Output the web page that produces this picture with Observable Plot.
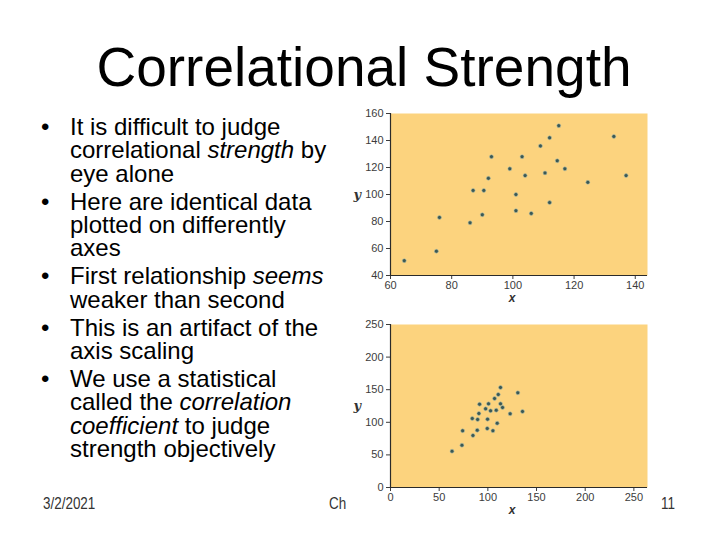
<!DOCTYPE html>
<html>
<head>
<meta charset="utf-8">
<script src="https://cdn.jsdelivr.net/npm/d3@7"></script>
<script src="https://cdn.jsdelivr.net/npm/@observablehq/plot@0.6"></script>
<style>
  html, body { margin: 0; padding: 0; background: #fff; }
  #page { position: relative; width: 720px; height: 540px; overflow: hidden; background: #fff;
          font-family: "Liberation Sans", Arial, Helvetica, sans-serif; color: #000; }
  #title { position: absolute; left: 0; top: 40px; width: 728px; text-align: center;
           font-size: 55px; line-height: 55px; white-space: nowrap; }
  #bullets { position: absolute; left: 70px; top: 115px; width: 280px; font-size: 24px; line-height: 23.3px; }
  #bullets p { margin: 0; position: relative; white-space: nowrap; }
  #bullets p + p { margin-top: 4.8px; }
  #bullets p::before { content: "\2022"; position: absolute; left: -29px; top: 0; }
  .foot { position: absolute; top: 494px; font-size: 16px; line-height: 20px; color: #333;
          transform: scaleX(0.84); transform-origin: left center; white-space: nowrap; }
  .chart { position: absolute; left: 340px; }
</style>
</head>
<body>
<div id="page">
  <div id="title">Correlational Strength</div>
  <div id="bullets">
    <p>It is difficult to judge<br>correlational <i>strength</i> by<br>eye alone</p>
    <p>Here are identical data<br>plotted on differently<br>axes</p>
    <p>First relationship <i>seems</i><br>weaker than second</p>
    <p>This is an artifact of the<br>axis scaling</p>
    <p>We use a statistical<br>called the <i>correlation</i><br><i>coefficient</i> to judge<br>strength objectively</p>
  </div>
  <div class="foot" style="left:43px">3/2/2021</div>
  <div class="foot" style="left:329px">Ch</div>
  <div class="foot" style="left:661px">11</div>
  <div id="c1" class="chart" style="top:100px"></div>
  <div id="c2" class="chart" style="top:310px"></div>
</div>
<script>
// ---- Data ----
// Top chart (narrow axes)
const x1 = [64.5, 75, 76, 86, 87, 90, 90.5, 92, 93, 99, 101, 101, 103, 104, 106, 109, 110.5, 112, 112, 114.5, 115, 117, 124.5, 133, 137];
const y1 = [51, 58, 83, 79, 103, 85, 103, 112, 128, 119, 100, 88, 128, 114, 86, 136, 116, 142, 94, 125, 151, 119, 109, 143, 114];
const xDomain1 = [60, 144];
const yDomain1 = [40, 160];
const xTicks1 = [60, 80, 100, 120, 140];
const yTicks1 = [40, 60, 80, 100, 120, 140, 160];

// Bottom chart (wide axes) – same data set as drawn in the figure
const x2 = [63.2, 73.4, 74.1, 84.7, 89.1, 84.0, 89.5, 90.8, 91.5, 99.4, 105.2, 99.7, 97.7, 100.7, 102.8, 108.6, 109.6, 106.9, 110.7, 113.0, 113.0, 115.1, 122.9, 130.8, 135.6];
const y2 = [55.7, 64.9, 87.0, 79.8, 87.9, 105.8, 104.3, 113.5, 127.8, 90.5, 87.0, 104.8, 120.7, 128.3, 117.6, 118.6, 98.6, 136.5, 142.6, 153.4, 128.3, 122.7, 113.0, 145.2, 116.6];
const xDomain2 = [0, 264];
const yDomain2 = [0, 250];
const xTicks2 = [0, 50, 100, 150, 200, 250];
const yTicks2 = [0, 50, 100, 150, 200, 250];

const axisLabels = ["x", "y"];

const bg = "#FCD37E";
const dotColor = "#3a5854";
const axisColor = "#2a2a2a";

function makeChart(xs, ys, xDomain, yDomain, xTicks, yTicks, height, marginTop, marginBottom) {
  const data = xs.map((x, i) => ({x, y: ys[i]}));
  return Plot.plot({
    width: 320,
    height,
    marginLeft: 50,
    marginRight: 13,
    marginTop,
    marginBottom,
    style: {fontSize: "11px", fontFamily: "'Liberation Sans', Arial, sans-serif", color: "#3c3c3c", background: "transparent", overflow: "visible"},
    x: {domain: xDomain, ticks: xTicks, label: null, tickSize: 4, tickPadding: 2},
    y: {domain: yDomain, ticks: yTicks, label: null, tickSize: 4, tickPadding: 3},
    marks: [
      Plot.frame({fill: bg, stroke: null}),
      Plot.ruleX([xDomain[0]], {stroke: axisColor, strokeWidth: 1.2}),
      Plot.ruleY([yDomain[0]], {stroke: axisColor, strokeWidth: 1.2}),
      Plot.dot(data, {x: "x", y: "y", r: 2, fill: dotColor, stroke: "#b9c2a8", strokeWidth: 0.6}),
      Plot.text([axisLabels[1]], {text: d => d, frameAnchor: "left", dx: -37, fontSize: 13, fontWeight: "bold", fontStyle: "italic", fontFamily: "'DejaVu Serif', serif", fill: "#333"}),
      Plot.text([axisLabels[0]], {text: d => d, frameAnchor: "bottom", dx: -7, dy: 26, fontSize: 12, fontWeight: "bold", fontStyle: "italic", fill: "#333"})
    ]
  });
}

document.getElementById("c1").append(makeChart(x1, y1, xDomain1, yDomain1, xTicks1, yTicks1, 210, 13, 35));
document.getElementById("c2").append(makeChart(x2, y2, xDomain2, yDomain2, xTicks2, yTicks2, 215, 14, 38));
</script>
</body>
</html>
